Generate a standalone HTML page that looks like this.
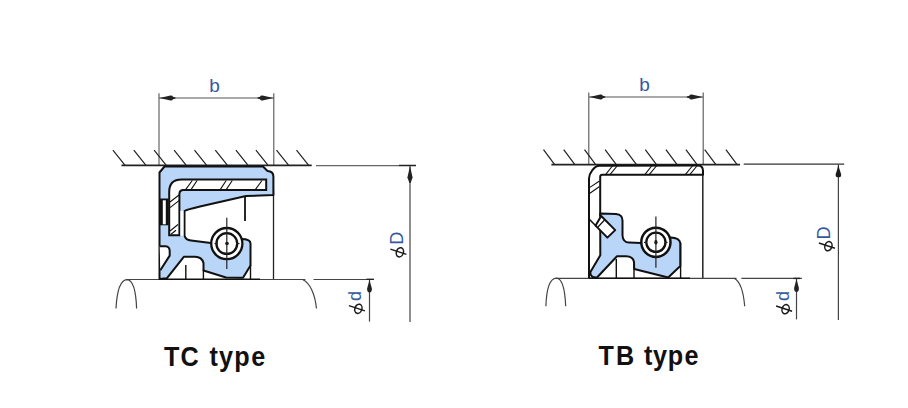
<!DOCTYPE html>
<html><head><meta charset="utf-8"><style>
html,body{margin:0;padding:0;background:#fff;}
svg{display:block;}
</style></head><body>
<svg width="908" height="408" viewBox="0 0 908 408">
<rect width="908" height="408" fill="#fff"/>
<defs>
  <path id="arrL" d="M0 0 L11 -2.5 Q12.8 -2.9 13.5 -1.3 L16 -0.6 L16 0.6 L13.5 1.3 Q12.8 2.9 11 2.5 Z"/>
  <path id="arrU" d="M0 0 L2.6 11.5 L0.6 17 L-0.6 17 L-2.6 11.5 Z"/>
  <g id="phi" fill="none" stroke="#1a1a1a" stroke-width="1.5">
    <ellipse cx="0" cy="0" rx="3.5" ry="4.7" transform="rotate(18)"/>
    <line x1="-9.5" y1="-3.2" x2="6.5" y2="2.1"/>
  </g>
</defs>

<!-- ============ TC TYPE ============ -->
<g id="tc">
  <!-- dimension b -->
  <g stroke="#555" stroke-width="1.1" fill="none">
    <line x1="159" y1="93.3" x2="159" y2="166"/>
    <line x1="273.8" y1="93.3" x2="273.8" y2="166"/>
    <line x1="159" y1="98" x2="274" y2="98"/>
  </g>
  <line x1="273.5" y1="190" x2="273.5" y2="279.5" stroke="#222" stroke-width="1.3"/>
  <use href="#arrL" transform="translate(159.5,98)" fill="#222"/>
  <use href="#arrL" transform="translate(273.5,98) scale(-1,1)" fill="#222"/>
  <text x="214.5" y="92" font-family="Liberation Sans" font-size="19" fill="#33599f" text-anchor="middle">b</text>

  <!-- housing hatch -->
  <g stroke="#222" stroke-width="1.2" fill="none">
    <line x1="121.5" y1="165.4" x2="311.7" y2="165.4" stroke-width="1.6"/>
    <path d="M112.9 150.1l12 15M133.8 150.1l12 15M154.1 150.1l12 15M174.1 150.1l12 15M194.5 150.1l12 15M215.3 150.1l12 15M235.9 150.1l12 15M255.9 150.1l12 15M276.5 150.1l12 15M296.5 150.1l12 15"/>
  </g>
  <line x1="316" y1="165.6" x2="399" y2="165.6" stroke="#666" stroke-width="1.1"/>
  <line x1="399" y1="165.5" x2="416" y2="165.5" stroke="#222" stroke-width="1.5"/>

  <!-- phi D -->
  <line x1="410" y1="166" x2="410" y2="322" stroke="#444" stroke-width="1.2"/>
  <use href="#arrU" transform="translate(410,166)" fill="#222"/>
  <text transform="translate(403.3,244.8) rotate(-90)" font-family="Liberation Sans" font-size="18" fill="#33599f">D</text>
  <use href="#phi" transform="translate(399.9,252.3)"/>

  <!-- shaft -->
  <g stroke="#444" stroke-width="1.2" fill="none">
    <line x1="126" y1="279.5" x2="305.4" y2="279.5"/>
    <line x1="313.5" y1="279.5" x2="374" y2="279.5"/>
    <path d="M116 308.5 C117 290 121 280 127 279.7 C133 280 136 292 136.6 308.5"/>
    <path d="M303 279.7 C310 283 315 294 316.5 308.5"/>
  </g>
  <!-- phi d -->
  <line x1="369.5" y1="279.4" x2="369.5" y2="321.6" stroke="#444" stroke-width="1.2"/>
  <line x1="366.5" y1="279.3" x2="373.8" y2="279.3" stroke="#222" stroke-width="1.4"/>
  <path d="M369.5 280 L371.9 288.5 Q372 292.3 369.5 292.5 Q367 292.3 367.1 288.5 Z" fill="#222"/>
  <text transform="translate(361,301) rotate(-90)" font-family="Liberation Sans" font-size="18" fill="#33599f">d</text>
  <use href="#phi" transform="translate(358.4,308.8)"/>

  <!-- seal silhouette -->
  <path d="M159.5 279 L159.5 172.5 L164.5 166.5 L263 166.5 L267.5 171 Q273.4 171.3 273.4 176.5 L273.4 195 L246 196 L200 206.5 Q187 209.5 184.5 211 L184.5 235.5 Q185.5 240 191 240.5 L211 243 L241.5 239 Q250.5 239 250.5 243.5 L250.5 265.5 L243 277.8 L226 277.5 L203.5 270.5 L203.5 263 Q202 257 195 256.8 L183.8 256.8 L166.8 278.3 Z"
        fill="#b9d5f8" stroke="#111" stroke-width="2" stroke-linejoin="round"/>
  <!-- notch bottom-left -->
  <path d="M159.7 246.2 L165.5 246.2 Q169.7 246.5 169.7 251 L169.7 255.6 L160.3 270.3" fill="#fff" stroke="#111" stroke-width="2"/>
  <!-- left rectangle -->
  <path d="M159.5 198.5 L168.7 198.5 L168.7 225.3 L159.5 225.3" fill="#111" stroke="none"/>
  <rect x="162.8" y="200.3" width="3" height="24" fill="#fff"/>
  <!-- metal case L -->
  <path d="M169.2 235.3 L169.2 192 Q169.2 179.6 181.6 179.6 L266.2 179.6 L266.2 190 L183.5 190 Q179.4 190 179.4 194 L179.4 235.3 Z"
        fill="#fff" stroke="#111" stroke-width="2"/>
  <g stroke="#111" stroke-width="1.1">
    <path d="M185.6 189.6L192.3 180.5M191 189.6L197.1 180.5M220.2 189.6L226.2 180.5M226.2 189.6L232.3 180.5M255.3 189.6L262 180.5"/>
    <path d="M170 202l9 -7M170 207.6l9 -7M170 231l8 -6.5M171 234.3l5 -4"/>
  </g>
  <rect x="180.4" y="210.8" width="3.1" height="25" fill="#fff"/>
  <line x1="245" y1="196" x2="245" y2="221" stroke="#111" stroke-width="1.8"/>
  <!-- spring -->
  <circle cx="226.8" cy="243.6" r="15.6" fill="#fff" stroke="#111" stroke-width="2.3"/>
  <circle cx="226.8" cy="243.6" r="10.4" fill="#fff" stroke="#111" stroke-width="2.3"/>
  <circle cx="227" cy="243.5" r="1.8" fill="#111"/>
  <g stroke="#222" stroke-width="1.2">
    <line x1="226.8" y1="217.8" x2="226.8" y2="269"/>
    <line x1="214.5" y1="243.5" x2="218" y2="243.5"/>
    <line x1="236" y1="243.5" x2="239.5" y2="243.5"/>
  </g>
  <g stroke="#111" stroke-width="1.4">
    <line x1="185.8" y1="265" x2="185.8" y2="279.5"/>
    <line x1="203.4" y1="270" x2="203.4" y2="279.3"/>
    <line x1="250.5" y1="265" x2="250.5" y2="279"/>
  </g>
  <line x1="159.5" y1="279.3" x2="260" y2="279.3" stroke="#111" stroke-width="1.6"/>
</g>

<!-- ============ TB TYPE ============ -->
<g id="tb">
  <g stroke="#555" stroke-width="1.1" fill="none">
    <line x1="588.8" y1="92.5" x2="588.8" y2="165"/>
    <line x1="703.2" y1="92.5" x2="703.2" y2="165"/>
    <line x1="589" y1="97" x2="703" y2="97"/>
  </g>
  <line x1="702.8" y1="170" x2="702.8" y2="278.5" stroke="#222" stroke-width="1.5"/>
  <use href="#arrL" transform="translate(589.3,97)" fill="#222"/>
  <use href="#arrL" transform="translate(702.8,97) scale(-1,1)" fill="#222"/>
  <text x="644.5" y="90.7" font-family="Liberation Sans" font-size="19" fill="#33599f" text-anchor="middle">b</text>

  <g stroke="#222" stroke-width="1.2" fill="none">
    <line x1="551.4" y1="164.6" x2="740" y2="164.6" stroke-width="1.6"/>
    <path d="M543.5 149.7l11.2 14.9M563.7 149.7l11.2 14.9M584.5 149.7l11.2 14.9M605.1 149.7l11.2 14.9M625.3 149.7l11.2 14.9M645.3 149.7l11.2 14.9M665.9 149.7l11.2 14.9M685.9 149.7l11.2 14.9M704.7 149.7l11.2 14.9M725.9 149.7l11.2 14.9"/>
  </g>
  <line x1="743.7" y1="164.2" x2="844.2" y2="164.2" stroke="#333" stroke-width="1.3"/>

  <line x1="838.4" y1="164.5" x2="838.4" y2="320" stroke="#444" stroke-width="1.2"/>
  <path d="M838.4 164.5 L839.3 168.5 L841.2 174.5 Q841.5 177 839.5 177.2 L837.3 177.2 Q835.3 177 835.6 174.5 L837.5 168.5 Z" fill="#1a1a1a"/>
  <text transform="translate(830.2,239.6) rotate(-90)" font-family="Liberation Sans" font-size="18" fill="#33599f">D</text>
  <use href="#phi" transform="translate(828.4,246.2)"/>

  <g stroke="#444" stroke-width="1.2" fill="none">
    <line x1="556" y1="278.3" x2="736.5" y2="278.3"/>
    <line x1="741.4" y1="278.3" x2="801.9" y2="278.3"/>
    <path d="M545.9 306.2 C546.5 288 550 278.5 556.4 278.2 C562 278.5 565 290 565.7 306.2"/>
    <path d="M734 278.2 C740 281 743.5 292 744.7 306.2"/>
  </g>
  <line x1="796.5" y1="278.3" x2="796.5" y2="319.4" stroke="#444" stroke-width="1.2"/>
  <path d="M796.5 279 L798.9 288 Q799 291.8 796.5 292 Q794 291.8 794.1 288 Z" fill="#222"/>
  <line x1="793.5" y1="278.4" x2="800" y2="278.4" stroke="#222" stroke-width="1.4"/>
  <text transform="translate(789.4,301) rotate(-90)" font-family="Liberation Sans" font-size="18" fill="#33599f">d</text>
  <use href="#phi" transform="translate(785.6,309.2)"/>

  <!-- metal case -->
  <path d="M589 278.3 L589 178.5 C589 173.5 594 166 599.5 165.8 L697.5 165.6 Q703 165.6 703 171 L703 174.7 L602.3 174.7 Q600.2 174.7 600.2 177 L600.2 216"
        fill="#fff" stroke="#111" stroke-width="2" stroke-linejoin="round"/>
  <g stroke="#111" stroke-width="1.1">
    <path d="M605.8 174.3L612.8 165.5M610.2 174.3L617.5 165.5M645 174.3L652 165.5M649.4 174.3L656.8 165.5M685.5 174.3L692.8 165.5M690 174.3L697.3 165.5"/>
    <path d="M589.9 187.4L599.5 181M589.9 193.3L599.5 186.5"/>
  </g>
  <!-- blue lip -->
  <path d="M600.2 213.4 L616 214 Q622.5 214.5 622.5 220.5 L622.5 235.5 Q623 242.5 629 242.5 L641 243 L670.6 237.5 Q679.5 237.8 680.3 243 L680.3 266 L668.2 277.5 L634.2 269 L634 262 Q633 256.3 626 256.3 L617 256.3 L597 277.5 Q590 278 590.4 272 L600.3 255.3 Z"
        fill="#b9d5f8" stroke="#111" stroke-width="2" stroke-linejoin="round"/>
  <!-- tilted rect -->
  <path d="M601.2 216 L615.2 230.1 L607.4 237.6 L595.6 225.6 Z" fill="#fff" stroke="#111" stroke-width="2" stroke-linejoin="round"/>
  <line x1="598" y1="227" x2="604.5" y2="220" stroke="#111" stroke-width="1.2"/>
  <line x1="589.3" y1="219.3" x2="596.5" y2="226.5" stroke="#111" stroke-width="1.6"/>
  <!-- spring -->
  <circle cx="655.9" cy="242.3" r="14.6" fill="#fff" stroke="#111" stroke-width="2.5"/>
  <circle cx="655.9" cy="242.3" r="9.6" fill="#fff" stroke="#111" stroke-width="2.3"/>
  <ellipse cx="655.9" cy="242.3" rx="1.6" ry="2.2" fill="#111"/>
  <g stroke="#222" stroke-width="1.2">
    <line x1="655.9" y1="216.5" x2="655.9" y2="267.8"/>
    <line x1="644" y1="242.4" x2="647" y2="242.4"/>
    <line x1="664.5" y1="242.4" x2="667.5" y2="242.4"/>
  </g>
  <g stroke="#111" stroke-width="1.4">
    <line x1="616.3" y1="259" x2="616.3" y2="278.3"/>
    <line x1="634" y1="262" x2="634" y2="278.3"/>
    <line x1="680.6" y1="243" x2="680.6" y2="278.3"/>
  </g>
  <line x1="589" y1="278.3" x2="690" y2="278.3" stroke="#111" stroke-width="1.6"/>
</g>

<!-- labels -->
<g font-family="Liberation Sans" font-weight="bold" font-size="28" fill="#111"><text transform="translate(163.9,366) scale(0.9,1)">T</text><text transform="translate(180.6,366) scale(0.9,1)">C</text><text transform="translate(209.5,366) scale(0.9,1)">t</text><text transform="translate(219,366) scale(0.9,1)">y</text><text transform="translate(234.2,366) scale(0.9,1)">p</text><text transform="translate(251.2,366) scale(0.9,1)">e</text></g>
<g font-family="Liberation Sans" font-weight="bold" font-size="28" fill="#111"><text transform="translate(598.4,364.6) scale(0.9,1)">T</text><text transform="translate(615.9,364.6) scale(0.9,1)">B</text><text transform="translate(643.9,364.6) scale(0.9,1)">t</text><text transform="translate(652.9,364.6) scale(0.9,1)">y</text><text transform="translate(667.8,364.6) scale(0.9,1)">p</text><text transform="translate(684.6,364.6) scale(0.9,1)">e</text></g>
</svg>
</body></html>
